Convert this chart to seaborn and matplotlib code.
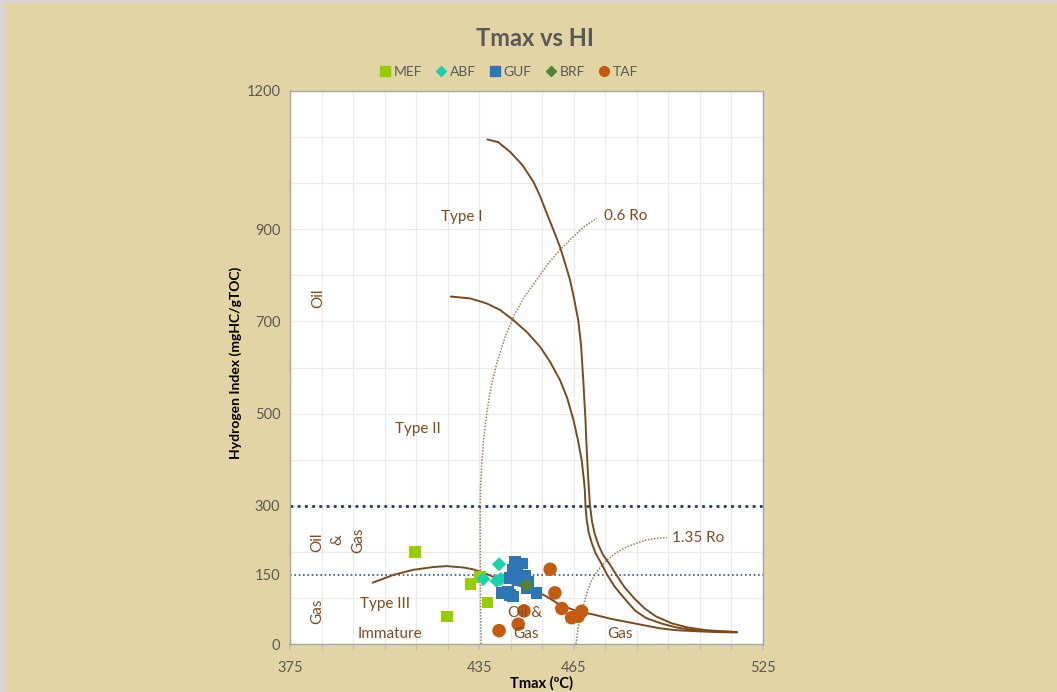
import matplotlib
matplotlib.use("Agg")
import matplotlib.pyplot as plt
from matplotlib.patches import Rectangle
from matplotlib.lines import Line2D
import seaborn as sns
import pandas as pd

sns.set_theme(style="white")
plt.rcParams['font.family'] = ['Lato', 'DejaVu Sans']

# ---- sample measurements: Tmax (°C) and Hydrogen Index (mgHC/gTOC) ----
mef_tmax = [414.6, 432.3, 435.3, 437.6, 424.7]
mef_hi = [200, 130, 145, 90, 60]

abf_tmax = [441.3, 436.3, 440.5, 441.9]
abf_hi = [173, 141, 137, 141]

guf_tmax = [446.4, 448.5, 445.8, 449.5, 444.8, 447.4, 450.6, 442.1,
            444.2, 445.8, 453.2, 450.1, 444.8, 447.0]
guf_hi = [178, 175, 161, 148, 143, 139, 135, 110,
          114, 103, 111, 121, 106, 150]

brf_tmax = [450.1]
brf_hi = [128]

taf_tmax = [457.5, 459.0, 461.2, 449.2, 447.4, 441.3, 464.3, 466.4, 467.5]
taf_hi = [162, 111, 77, 72, 43, 29, 57, 60, 71]

# ---- kerogen type boundaries ----
type1_tmax = [437.6, 441.0, 444.8, 448.6, 452.2, 454.3, 456.4, 458.4, 460.6,
              462.2, 463.8, 465.1, 466.4, 467.3, 468.0, 468.7, 469.1, 469.6,
              470.1, 470.8, 471.6, 472.8, 474.3, 476.3, 478.5, 481.0, 484.3,
              487.5, 491.0, 496.0, 501.0, 507.0, 512.0, 516.7]
type1_hi = [1095, 1089, 1068, 1040, 1003, 972, 935, 901, 862,
            827, 790, 749, 703, 649, 573, 486, 421, 356,
            302, 265, 240, 215, 193, 174, 150, 124, 98,
            77, 60, 45, 36, 30, 27.5, 26]

type2_tmax = [426.0, 432.1, 437.4, 441.6, 445.8, 450.1, 454.3, 457.5, 460.6,
              462.9, 464.9, 466.3, 467.5, 468.2, 468.5, 468.7, 469.1, 469.7,
              470.7, 471.9, 473.7, 475.6, 478.0, 481.3, 484.5, 488.0, 493.0,
              497.5, 502.0, 508.2, 516.7]
type2_hi = [754, 750, 739, 725, 703, 677, 645, 612, 573,
            534, 486, 443, 399, 356, 334, 300, 269, 243,
            219, 197, 175, 150, 124, 97, 72, 56, 44,
            36, 31, 28, 26]

type3_tmax = [401.2, 407.8, 414.1, 420.4, 424.7, 430.0, 433.1, 435.3, 438.4,
              441.6, 446.9, 452.2, 456.4, 460.6, 464.9, 469.1, 471.2, 476.5,
              481.8, 487.0, 492.3, 497.4, 502.9, 509.8, 516.7]
type3_hi = [133, 150, 161, 167, 169, 166, 162, 157, 149,
            139, 128, 117, 103, 85, 74, 67, 64, 55,
            48, 41, 34, 30, 28, 26, 25]

# ---- vitrinite reflectance iso-lines ----
ro06_tmax = [435.6, 435.4, 435.3, 435.4, 435.8, 436.4, 437.4, 438.7, 440.6,
             443.2, 446.4, 449.5, 453.2, 456.8, 460.6, 464.4, 468.2, 472.3]
ro06_hi = [0, 95, 269, 334, 393, 443, 501, 556, 610,
           666, 718, 755, 790, 825, 855, 881, 905, 924]

ro135_tmax = [465.7, 466.5, 468.0, 469.2, 470.7, 472.8, 475.5, 478.5, 481.8,
              485.0, 488.1, 491.0, 494.5]
ro135_hi = [0, 40, 81, 112, 139, 162, 182, 198, 211,
            219, 226, 229, 231]

# zone limits
hi_oil_gas = 300
hi_gas = 150

x_ticks = [375, 435, 465, 525]
y_ticks = [0, 150, 300, 500, 700, 900, 1200]

BG = "#e3d4a5"
BROWN = "#7a4a1c"
TEXT_BROWN = "#7f4b1e"

fig = plt.figure(figsize=(10.57, 6.92), dpi=100, facecolor=BG)
fig.patches.append(Rectangle((0, 0), 5 / 1057, 1, transform=fig.transFigure,
                             facecolor="#d6d6d6", edgecolor="none", zorder=0))
fig.patches.append(Rectangle((0, 1 - 3 / 692), 1, 3 / 692, transform=fig.transFigure,
                             facecolor="#d6d6d6", edgecolor="none", zorder=0))

ax = fig.add_axes([290 / 1057, 1 - 644 / 692, 473 / 1057, 553 / 692])
ax.set_facecolor("white")
ax.set_xlim(375, 525)
ax.set_ylim(0, 1200)

# grid
for gx in range(375, 526, 10):
    ax.axvline(gx, color="#ebebeb", lw=0.9, zorder=0)
for gy in range(0, 1201, 100):
    ax.axhline(gy, color="#ebebeb", lw=0.9, zorder=0)

# zone lines
ax.axhline(hi_oil_gas, color="#203864", lw=2.0, ls=(0, (1, 1.6)), zorder=1)
ax.axhline(hi_gas, color="#2f5597", lw=1.2, ls=(0, (1, 1.6)), zorder=1)

# Ro iso-lines
for xs, ys in [(ro06_tmax, ro06_hi), (ro135_tmax, ro135_hi)]:
    sns.lineplot(x=xs, y=ys, sort=False, estimator=None, ax=ax,
                 color="#a07a55", lw=1.1, ls=(0, (1, 1)), zorder=2)

# kerogen type curves
for xs, ys in [(type1_tmax, type1_hi), (type2_tmax, type2_hi), (type3_tmax, type3_hi)]:
    sns.lineplot(x=xs, y=ys, sort=False, estimator=None, ax=ax,
                 color=BROWN, lw=1.4, zorder=3)

# samples
series = [
    ("MEF", mef_tmax, mef_hi, "s", "#99cc00", 70),
    ("ABF", abf_tmax, abf_hi, "D", "#1fcfac", 52),
    ("GUF", guf_tmax, guf_hi, "s", "#2e75b6", 70),
    ("BRF", brf_tmax, brf_hi, "D", "#548235", 52),
    ("TAF", taf_tmax, taf_hi, "o", "#c55a11", 95),
]
handles = []
for name, xs, ys, mk, col, sz in series:
    df = pd.DataFrame({"Tmax": xs, "HI": ys})
    sns.scatterplot(data=df, x="Tmax", y="HI", marker=mk, color=col, s=sz,
                    edgecolor="none", linewidth=0, ax=ax, zorder=4)
    handles.append(Line2D([], [], ls="none", marker=mk, color=col,
                          markersize=7 if mk == "s" else (5 if mk == "D" else 7),
                          label=name))

# annotations
def note(x, y, s, **kw):
    ax.text(x, y, s, color=TEXT_BROWN, fontsize=11, ha="center", va="center", zorder=5, **kw)

note(429.4, 927, "Type I")
note(415.6, 467, "Type II")
note(405.0, 87, "Type III")
note(406.7, 22, "Immature")
note(449.5, 67, "Oil &")
note(449.8, 21, "Gas")
note(479.7, 22, "Gas")
ax.text(474.6, 929, "0.6 Ro", color=TEXT_BROWN, fontsize=11, ha="left", va="center", zorder=5)
ax.text(496.2, 231, "1.35 Ro", color=TEXT_BROWN, fontsize=11, ha="left", va="center", zorder=5)
note(383.9, 751, "Oil", rotation=90)
note(383.6, 221, "Oil", rotation=90)
note(389.9, 226, "&", rotation=90)
note(396.6, 226, "Gas", rotation=90)
note(383.6, 72, "Gas", rotation=90)

# axes styling
ax.set_xticks(x_ticks)
ax.set_xticks(range(375, 526, 10), minor=True)
ax.set_yticks(y_ticks)
ax.tick_params(axis="x", which="both", direction="out", length=4, color="#bfbfbf",
               labelsize=10.5, labelcolor="#595959", pad=8, bottom=True)
ax.tick_params(axis="y", which="both", length=0, labelsize=10.5, labelcolor="#595959", pad=7)
for sp in ax.spines.values():
    sp.set_color("#a6a6a6")
    sp.set_linewidth(1.0)
ax.set_xlabel("")
ax.set_ylabel("")

fig.text(236 / 1057, 1 - 363 / 692, "Hydrogen Index (mgHC/gTOC)", rotation=90,
         fontsize=10, fontweight="bold", color="black", ha="center", va="center")
fig.text(541 / 1057, 1 - 683 / 692, "Tmax (ºC)", fontsize=10.5, fontweight="bold",
         color="black", ha="center", va="center")
fig.text(535 / 1057, 1 - 38 / 692, "Tmax vs HI", fontsize=17, fontweight="bold",
         color="#595959", ha="center", va="center")

fig.legend(handles=handles, loc="center", bbox_to_anchor=(508 / 1057, 1 - 72 / 692),
           ncol=5, frameon=False, fontsize=10, labelcolor="#595959",
           handletextpad=0.1, columnspacing=0.9, handlelength=1.0)

fig.savefig("out.png", dpi=100, facecolor=BG)
